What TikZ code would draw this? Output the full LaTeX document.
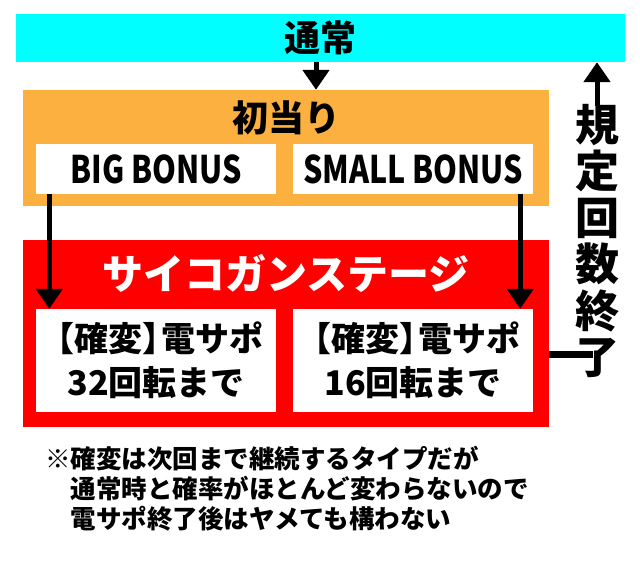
\documentclass[tikz,border=0pt]{standalone}
\usepackage{fontspec}
\setmainfont{Noto Sans CJK JP}[BoldFont={Noto Sans CJK JP Black}]
\newfontfamily\latfont{Noto Sans CJK JP}[FakeStretch=0.8]
\usetikzlibrary{arrows.meta}
\definecolor{stateblue}{RGB}{0,255,255}
\definecolor{hitorange}{RGB}{251,176,64}
\definecolor{stagered}{RGB}{255,0,0}
\newcommand\kakuhen{\kern-.25em【確変】\kern-.45em 電サポ}
\tikzset{
  bonusbox/.style={fill=white, inner sep=0pt, minimum width=240pt, minimum height=50pt, font=\latfont\bfseries\fontsize{38}{40}\selectfont},
  supportbox/.style={fill=white, inner sep=0pt, minimum width=240pt, minimum height=103pt, align=center, font=\bfseries\fontsize{34}{44}\selectfont},
  flow/.style={line width=5pt, -{Triangle[width=26pt,length=20pt]}},
}
\begin{document}
\begin{tikzpicture}[x=1pt,y=-1pt]
        \useasboundingbox (0,0) rectangle (640,562);
        % normal state
        \node[fill=stateblue, inner sep=0pt, minimum width=609pt, minimum height=48pt,
              font=\bfseries\fontsize{36}{36}\selectfont] (normal) at (320.5,38) {通常};
        % first hit
        \node[fill=hitorange, inner sep=0pt, minimum width=526pt, minimum height=116pt] (hit) at (286,148) {};
        \node[font=\bfseries\fontsize{36}{36}\selectfont, inner sep=0pt] (hittitle) at (286,118) {初当り};
        \node[bonusbox] (big) at (156,169) {BIG BONUS};
        \node[bonusbox] (small) at (413,169) {SMALL BONUS};
        % saikogan stage
        \node[fill=stagered, inner sep=0pt, minimum width=526pt, minimum height=187pt] (stage) at (286,333.5) {};
        \node[text=white, font=\bfseries\fontsize{41}{41}\selectfont, inner sep=0pt] (stagetitle) at (286,273) {サイコガンステージ};
        \node[supportbox] (sup32) at (156,360.5) {\kakuhen\\32回転まで};
        \node[supportbox] (sup16) at (413,360.5) {\kakuhen\\16回転まで};
        % back to normal
        \node[inner sep=0pt, align=center, font=\bfseries\fontsize{44}{46.5}\selectfont] (limit) at (597,241) {規\\定\\回\\数\\終\\了};
        \coordinate (joint) at (593,354.5);
        % arrows
        \draw[flow] ([xshift=30pt]hit.north |- normal.south) -- ([xshift=30pt]hit.north);
        \draw[flow] ([xshift=13.5pt]big.south west) -- ([xshift=13.5pt]sup32.north west);
        \draw[flow] ([xshift=-13pt]small.south east) -- ([xshift=-13pt]sup16.north east);
        \draw[line width=7pt] (stage.east |- joint) -- (joint);
        \draw[flow] ([yshift=-2pt]limit.north) -- (limit.north |- normal.south);
        % note
        \node[anchor=north west, inner sep=0pt, align=left, font=\bfseries\fontsize{25.5}{30}\selectfont] (note) at (45,446)
            {※確変は次回まで継続するタイプだが\\\hspace*{1em}通常時と確率がほとんど変わらないので\\\hspace*{1em}電サポ終了後はヤメても構わない};
\end{tikzpicture}
\end{document}
